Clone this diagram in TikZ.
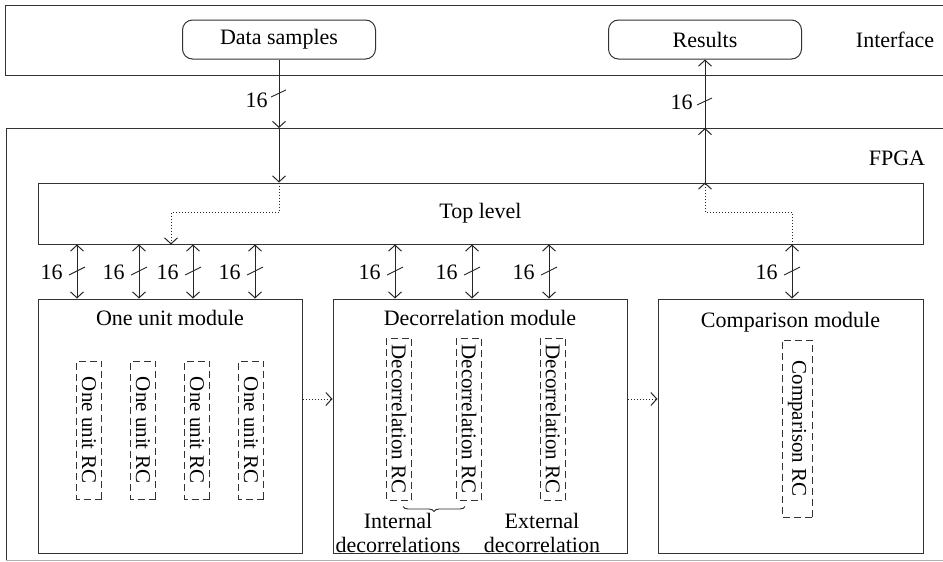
\documentclass[tikz,border=0pt]{standalone}
\usepackage{fontspec}
\setmainfont{Liberation Serif}
\usetikzlibrary{arrows.meta,decorations.pathreplacing,calc}

\begin{document}
\begin{tikzpicture}[x=1pt,y=-1pt,
  font=\fontsize{22}{24}\selectfont,
  line width=1pt,
  >={Straight Barb[length=6pt,width=13pt]},
  frame/.style={draw=black!80},
  rbox/.style={draw=black!80, rounded corners=10pt, minimum height=39pt, inner sep=0pt},
  modbox/.style={draw=black!80, minimum height=254pt, inner sep=0pt},
  rcbox/.style={draw=black!80, dashed, dash pattern=on 7pt off 4pt, rotate=-90, inner sep=0pt,
    font=\fontsize{21}{24}\selectfont},
  bus/.style={<->, black!85},
  flow/.style={->, black!85},
  dflow/.style={->, black!85, dotted},
  slash/.style={black!85, line width=0.9pt},
  buslabel/.style={anchor=east, inner sep=0pt}
]
\useasboundingbox (0,0) rectangle (943,562);

% interface strip
\draw[frame] (946,5) -- (5,5) -- (5,75) -- (946,75);
\node[rbox, minimum width=193pt] (data) at (279,39.5) {Data samples};
\node[rbox, minimum width=193pt] (res) at (705,39.5) {Results};
\node (iface) at (895,40) {Interface};

% FPGA area
\draw[frame] (946,128) -- (6,128) -- (6,560);
\draw[black!30] (6,560) -- (946,560);
\node (fpga) at (897,158) {FPGA};
\coordinate (din) at (279,128);
\coordinate (dout) at (705,128);

% top level block
\node[draw=black!80, minimum width=885pt, minimum height=61pt, inner sep=0pt] (top) at (480.5,213.5) {Top level};

% modules
\node[modbox, minimum width=264pt] (m1) at (170,426) {};
\node[modbox, minimum width=294pt] (m2) at (480,426) {};
\node[modbox, minimum width=265pt] (m3) at (790.5,426) {};
\node (t1) at (170,318) {One unit module};
\node (t2) at (480,318) {Decorrelation module};
\node (t3) at (790.5,322) {Comparison module};

% reconfigurable cores
\foreach \i/\x in {1/89,2/143,3/197,4/251}
  \node[rcbox, minimum width=138pt, minimum height=25pt] (u\i) at (\x,430) {One unit RC};
\node[rcbox, minimum width=162pt, minimum height=25pt] (d1) at (399,419) {Decorrelation RC};
\node[rcbox, minimum width=162pt, minimum height=25pt] (d2) at (469,419) {Decorrelation RC};
\node[rcbox, minimum width=162pt, minimum height=25pt] (d3) at (553,419) {Decorrelation RC};
\node[rcbox, minimum width=177pt, minimum height=30pt] (c1) at (797,428.5) {Comparison RC};

\draw[decorate, decoration={brace, amplitude=5pt}, black!85, line width=0.9pt]
  ([xshift=-4pt,yshift=-6pt]d2.east) -- ([xshift=4pt,yshift=-6pt]d1.east);
\node[align=center, inner sep=0pt] (intl) at (398,533) {Internal\\decorrelations};
\node[align=center, inner sep=0pt] (extl) at (542,533) {External\\decorrelation};

% data input path
\draw[flow] (data.south) -- (din);
\draw[flow] (din) -- (top.north -| din);
\draw[slash] ($(din)+(-8,-31)$) -- ($(din)+(7,-38)$);
\node[buslabel] at ($(din)+(-11,-28)$) {16};

% result output path
\draw[flow] (top.north -| dout) -- (dout);
\draw[flow] (dout) -- (res.south);
\draw[slash] ($(dout)+(-8,-23)$) -- ($(dout)+(7,-30)$);
\node[buslabel] at ($(dout)+(-12,-26)$) {16};

% internal routing inside the top level
\coordinate (r1) at (279,212);
\coordinate (r2) at (171,212);
\coordinate (r3) at (792,212);
\coordinate (r4) at (705,212);
\draw[dflow] (top.north -| r1) -- (r1) -- (r2) -- (top.south -| r2);
\draw[dflow] (top.south -| r3) -- (r3) -- (r4) -- (top.north -| r4);

% 16-bit buses between the top level and the modules
\foreach \x/\m in {77/m1,139/m1,193/m1,255/m1,395/m2,472/m2,549/m2,792/m3}{
  \coordinate (b) at (\x,271);
  \draw[bus] (top.south -| b) -- (\m.north -| b);
  \draw[slash] ($(b)+(-8,4)$) -- ($(b)+(8,-4)$);
  \node[buslabel] at ($(b)+(-14,1)$) {16};
}

% module-to-module flow
\draw[dflow] (m1.east |- 0,399) -- (m2.west |- 0,399);
\draw[dflow] (m2.east |- 0,399) -- (m3.west |- 0,399);
\end{tikzpicture}
\end{document}
